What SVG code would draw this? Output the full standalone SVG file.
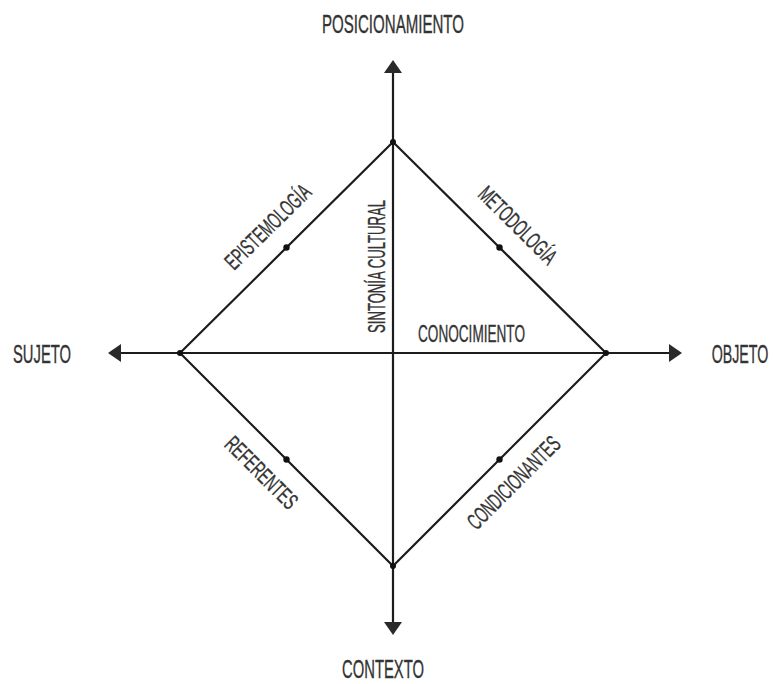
<svg xmlns="http://www.w3.org/2000/svg" width="774" height="684" viewBox="0 0 774 684">
  <style>
    .ax { stroke: #1c1c1c; stroke-width: 2.2; fill: none; }
    .ln { stroke: #1c1c1c; stroke-width: 2.2; fill: none; stroke-linejoin: round; }
    .dot { fill: #111; }
    text { font-family: "Liberation Sans", Arial, sans-serif; fill: #333; text-anchor: middle; stroke: #333; stroke-width: 0.35; }
    .big { font-size: 25px; }
    .mid { font-size: 23px; }
  </style>
  <defs>
    <marker id="arr" markerUnits="userSpaceOnUse" viewBox="0 0 13 18" refX="0" refY="9" markerWidth="13" markerHeight="18" orient="auto-start-reverse">
      <path d="M0,0 L13,9 L0,18 Z" fill="#2a2a2a"/>
    </marker>
  </defs>
  <rect width="774" height="684" fill="#ffffff"/>

  <g id="connectors">
    <line class="ax" x1="393" y1="73" x2="393" y2="622" marker-start="url(#arr)" marker-end="url(#arr)"/>
    <line class="ax" x1="121" y1="353" x2="669" y2="353" marker-start="url(#arr)" marker-end="url(#arr)"/>
    <polygon class="ln" points="393,142 606,353 393,566 180,353"/>
    <circle class="dot" cx="393" cy="142" r="3"/>
    <circle class="dot" cx="606" cy="353" r="3"/>
    <circle class="dot" cx="393" cy="566" r="3"/>
    <circle class="dot" cx="180" cy="353" r="3"/>
    <circle class="dot" cx="286.5" cy="247.5" r="3.2"/>
    <circle class="dot" cx="499.5" cy="247.5" r="3.2"/>
    <circle class="dot" cx="286.5" cy="459.5" r="3.2"/>
    <circle class="dot" cx="499.5" cy="459.5" r="3.2"/>
  </g>

  <g id="posicionamiento"><text class="big" x="393" y="33" textLength="142" lengthAdjust="spacingAndGlyphs">POSICIONAMIENTO</text></g>
  <g id="sujeto"><text class="big" x="42" y="363" textLength="58" lengthAdjust="spacingAndGlyphs">SUJETO</text></g>
  <g id="objeto"><text class="big" transform="translate(740,363) scale(0.57,1)" x="0" y="0">OBJETO</text></g>
  <g id="contexto"><text class="big" x="383" y="678" textLength="82" lengthAdjust="spacingAndGlyphs">CONTEXTO</text></g>
  <g id="conocimiento"><text class="mid" x="471.5" y="342" textLength="107" lengthAdjust="spacingAndGlyphs">CONOCIMIENTO</text></g>
  <g id="sintonia-cultural"><text class="mid" transform="translate(385,266.5) rotate(-90)" x="0" y="0" textLength="133" lengthAdjust="spacingAndGlyphs">SINTONÍA CULTURAL</text></g>
  <g id="epistemologia"><text class="mid" transform="translate(267,226) rotate(-44.5)" x="0" y="9" textLength="110" lengthAdjust="spacingAndGlyphs">EPISTEMOLOGÍA</text></g>
  <g id="metodologia"><text class="mid" transform="translate(518.5,224.5) rotate(44.7)" x="0" y="9" textLength="100" lengthAdjust="spacingAndGlyphs">METODOLOGÍA</text></g>
  <g id="referentes"><text class="mid" transform="translate(261.5,472.5) rotate(45)" x="0" y="8" textLength="92" lengthAdjust="spacingAndGlyphs">REFERENTES</text></g>
  <g id="condicionantes"><text class="mid" transform="translate(513.5,482.5) rotate(-45)" x="0" y="8" textLength="121" lengthAdjust="spacingAndGlyphs">CONDICIONANTES</text></g>
</svg>
